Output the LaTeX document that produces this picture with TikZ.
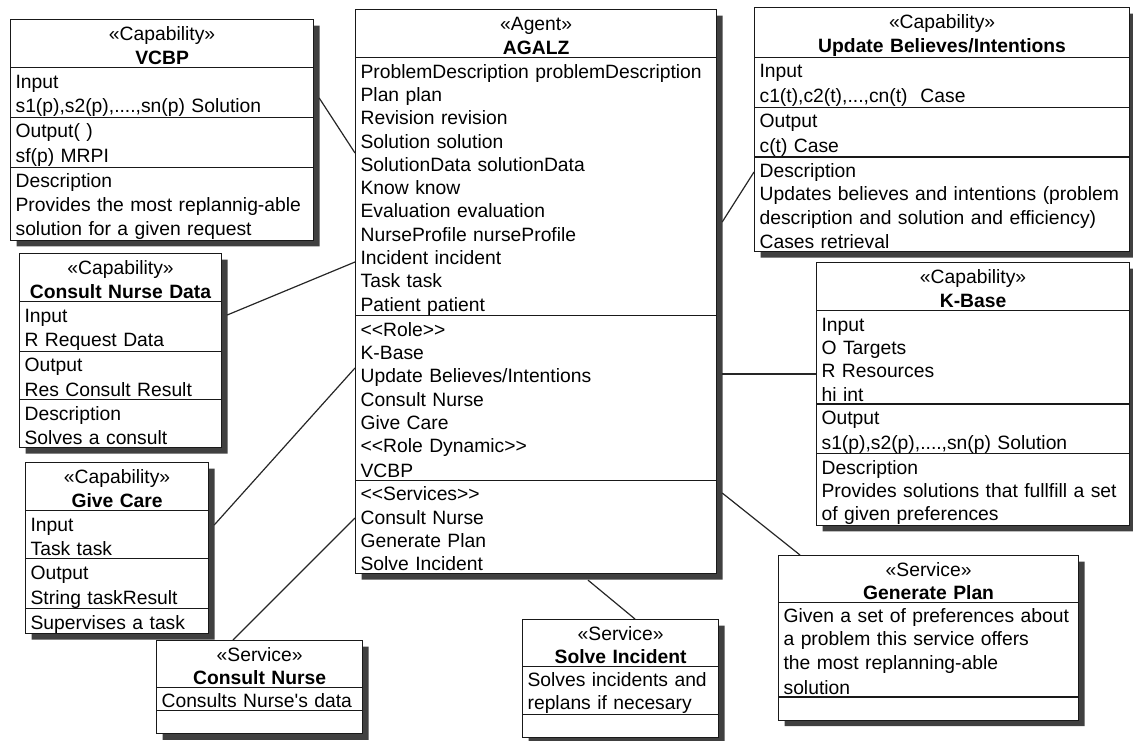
\documentclass[tikz,border=0pt]{standalone}
\usepackage{fontspec}
\newfontfamily\umlfont{Liberation Sans}[Ligatures=TeXOff]
\usetikzlibrary{calc,shapes.multipart,shadows}
\newcommand{\umltext}{\umlfont\fontsize{19.3pt}{23.3pt}\selectfont}
\newcommand{\ustrut}{\rule[-2.3pt]{0pt}{22.1pt}}

\begin{document}
\begin{tikzpicture}[x=1pt,y=-1pt,line width=1.2pt,
  umlbox/.style={rectangle split,rectangle split parts=#1,draw=black!90,fill=white,anchor=north west,
    align=left,font=\umltext,inner xsep=5pt,inner ysep=0pt,
    rectangle split empty part height=19.6pt,rectangle split empty part depth=2.5pt,
    drop shadow={shadow xshift=6pt,shadow yshift=-6pt,fill=black!75,opacity=1}},
  link/.style={draw=black!85}]
  \useasboundingbox (0,0) rectangle (1133,740);
  % agent in the middle
  \node[umlbox=4,text width=351pt] (agalz) at (355,9) {\centering\ustrut«Agent»\\\textbf{AGALZ}\ustrut\par
    \nodepart{two}\ustrut ProblemDescription problemDescription\\Plan plan\\Revision revision\\Solution solution\\SolutionData solutionData\\Know know\\Evaluation evaluation\\NurseProfile nurseProfile\\Incident incident\\Task task\\Patient patient\ustrut
    \nodepart{three}\ustrut <<Role>>\\K-Base\\Update Believes/Intentions\\Consult Nurse\\Give Care\\<<Role Dynamic>>\\VCBP\ustrut
    \nodepart{four}\ustrut <<Services>>\\Consult Nurse\\Generate Plan\\Solve Incident\ustrut};
  % capabilities
  \node[umlbox=4,text width=293pt] (vcbp) at (10,19) {\centering\ustrut«Capability»\\\textbf{VCBP}\ustrut\par
    \nodepart{two}\ustrut Input\\s1(p),s2(p),....,sn(p) Solution\ustrut
    \nodepart{three}\ustrut Output( )\\sf(p) MRPI\ustrut
    \nodepart{four}\ustrut Description\\Provides the most replannig-able\\solution for a given request\ustrut};
  \node[umlbox=4,text width=192pt] (nursedata) at (19,253) {\centering\ustrut«Capability»\\\textbf{Consult Nurse Data}\ustrut\par
    \nodepart{two}\ustrut Input\\R Request Data\ustrut
    \nodepart{three}\ustrut Output\\Res Consult Result\ustrut
    \nodepart{four}\ustrut Description\\Solves a consult\ustrut};
  \node[umlbox=4,text width=173pt] (givecare) at (25,462) {\centering\ustrut«Capability»\\\textbf{Give Care}\ustrut\par
    \nodepart{two}\ustrut Input\\Task task\ustrut
    \nodepart{three}\ustrut Output\\String taskResult\ustrut
    \nodepart{four}\ustrut Supervises a task\ustrut};
  \node[umlbox=4,text width=365pt] (believes) at (754,7) {\centering\ustrut«Capability»\\\textbf{Update Believes/Intentions}\ustrut\par
    \nodepart{two}\ustrut Input\\c1(t),c2(t),...,cn(t)\ \ Case\ustrut
    \nodepart{three}\ustrut Output\\c(t) Case\ustrut
    \nodepart{four}\ustrut Description\\Updates believes and intentions (problem\\description and solution and efficiency)\\Cases retrieval\ustrut};
  \node[umlbox=4,text width=303pt] (kbase) at (816,262) {\centering\ustrut«Capability»\\\textbf{K-Base}\ustrut\par
    \nodepart{two}\ustrut Input\\O Targets\\R Resources\\hi int\ustrut
    \nodepart{three}\ustrut Output\\s1(p),s2(p),....,sn(p) Solution\ustrut
    \nodepart{four}\ustrut Description\\Provides solutions that fullfill a set\\of given preferences\ustrut};
  % services
  \node[umlbox=3,text width=196pt] (consultnurse) at (156,640) {\centering\ustrut«Service»\\\textbf{Consult Nurse}\ustrut\par
    \nodepart{two}\ustrut Consults Nurse's data\ustrut};
  \node[umlbox=3,text width=186pt] (solveinc) at (522,619) {\centering\ustrut«Service»\\\textbf{Solve Incident}\ustrut\par
    \nodepart{two}\ustrut Solves incidents and\\replans if necesary\ustrut};
  \node[umlbox=3,text width=290pt] (genplan) at (778,555) {\centering\ustrut«Service»\\\textbf{Generate Plan}\ustrut\par
    \nodepart{two}\ustrut Given a set of preferences about\\a problem this service offers\\the most replanning-able\\solution\ustrut};
  % links to the agent
  \draw[link] ($(vcbp.north east)+(5,79)$) -- ($(agalz.north west)+(0,144)$);
  \draw[link] ($(nursedata.north east)+(5,62)$) -- ($(agalz.north west)+(0,253)$);
  \draw[link] ($(givecare.north east)+(5,63)$) -- ($(agalz.north west)+(0,359)$);
  \draw[link] ($(consultnurse.north west)+(77,0)$) -- ($(agalz.north west)+(0,509)$);
  \draw[link] ($(agalz.south west)+(233,6)$) -- ($(solveinc.north west)+(113,0)$);
  \draw[link] ($(agalz.north east)+(5,484)$) -- ($(genplan.north west)+(22,0)$);
  \draw[link] ($(agalz.north east)+(5,365)$) -- ($(kbase.north west)+(0,112)$);
  \draw[link] ($(agalz.north east)+(5,213)$) -- ($(believes.north west)+(0,165)$);
\end{tikzpicture}
\end{document}
